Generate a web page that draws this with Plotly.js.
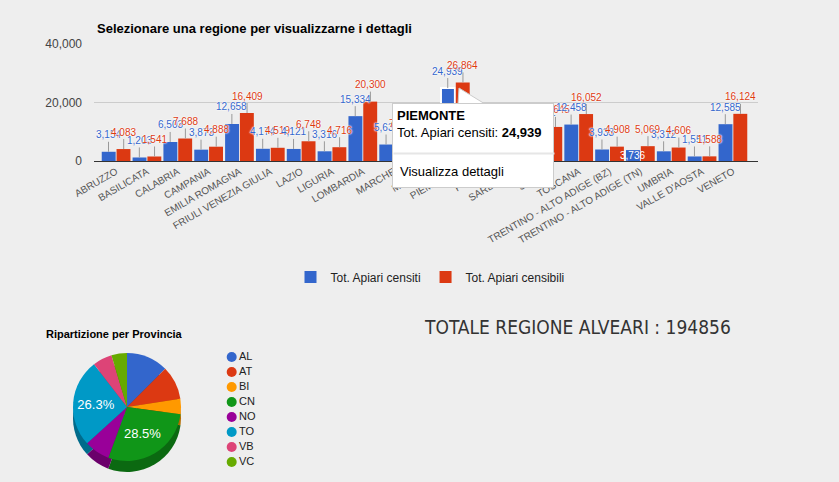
<!DOCTYPE html>
<html>
<head>
<meta charset="utf-8">
<script src="https://cdn.plot.ly/plotly-3.0.1.min.js"></script>
<style>
  body { margin: 0; background: #eeeeee; }
  #chart { width: 839px; height: 482px; }
</style>
</head>
<body>
<div id="chart"></div>
<script>
// regioni e valori
var regioni = ['ABRUZZO', 'BASILICATA', 'CALABRIA', 'CAMPANIA', 'EMILIA ROMAGNA',
  'FRIULI VENEZIA GIULIA', 'LAZIO', 'LIGURIA', 'LOMBARDIA', 'MARCHE', 'MOLISE',
  'PIEMONTE', 'PUGLIA', 'SARDEGNA', 'SICILIA', 'TOSCANA',
  'TRENTINO - ALTO ADIGE (BZ)', 'TRENTINO - ALTO ADIGE (TN)', 'UMBRIA',
  "VALLE D'AOSTA", 'VENETO'];
var censiti = [3154, 1203, 6503, 3873, 12658, 4174, 4121, 3316, 15334, 5633, 823,
  24939, 2457, 4310, 10912, 12458, 3933, 3736, 3312, 1551, 12585];
var censibili = [4083, 1541, 7688, 4888, 16409, 4519, 6748, 4716, 20300, 7020, 1072,
  26864, 3510, 5892, 11645, 16052, 4908, 5069, 4606, 1588, 16124];

// torta provincia (Piemonte)
var province = ['AL', 'AT', 'BI', 'CN', 'NO', 'TO', 'VB', 'VC'];
var alveariProv = [24400, 19500, 9000, 55530, 14800, 51250, 11300, 9076];
var totaleAlveari = 194856;

var blu = '#3366cc', rosso = '#dc3912';
var coloriTorta = ['#3366cc', '#dc3912', '#ff9900', '#109618', '#990099', '#0099c6', '#dd4477', '#66aa00'];
var coloriOmbra = ['#24478f', '#9a280d', '#b36b00', '#0b6911', '#6b006b', '#006b8b', '#9b3053', '#477700'];

var W = 839, H = 482;
function px(x) { return x / W; }
function py(y) { return 1 - y / H; }

var lineeBordo = regioni.map(function(r) { return r === 'PIEMONTE' ? 2 : 0; });

var traceCensiti = {
  type: 'bar', name: 'Tot. Apiari censiti',
  x: regioni, y: censiti,
  marker: { color: blu, line: { color: '#ffffff', width: lineeBordo } },
  hoverinfo: 'none'
};
var traceCensibili = {
  type: 'bar', name: 'Tot. Apiari censibili',
  x: regioni, y: censibili,
  marker: { color: rosso },
  hoverinfo: 'none'
};

// finta profondita' della torta
var R = 54;
var dominioX = [px(127 - R), px(127 + R)];
var tortaOmbra = {
  type: 'pie', labels: province, values: alveariProv,
  sort: false, direction: 'clockwise',
  marker: { colors: coloriOmbra, line: { width: 0 } },
  textinfo: 'none', hoverinfo: 'none', showlegend: false,
  domain: { x: dominioX, y: [py(418 + R), py(418 - R)] }
};
var testiTorta = alveariProv.map(function(v) {
  return v / totaleAlveari > 0.2 ? '%{percent:.1%}' : '';
});
var torta = {
  type: 'pie', labels: province, values: alveariProv,
  sort: false, direction: 'clockwise',
  marker: { colors: coloriTorta, line: { width: 0 } },
  texttemplate: testiTorta, textposition: 'inside',
  textfont: { color: '#ffffff', size: 13 },
  hoverinfo: 'none', showlegend: false,
  domain: { x: dominioX, y: [py(407 + R), py(407 - R)] }
};
// legenda della torta con pallini
var legendaTorta = {
  type: 'scatter', mode: 'markers+text',
  x: province.map(function() { return 0; }),
  y: province.map(function(p, i) { return i; }),
  text: province, textposition: 'middle right',
  textfont: { size: 11, color: '#222222' },
  marker: { color: coloriTorta, size: 10, symbol: 'circle' },
  xaxis: 'x2', yaxis: 'y2', showlegend: false, hoverinfo: 'none', cliponaxis: false
};

var fontEtichette = { size: 10, family: 'Arial, Liberation Sans', shadow: '0 0 2px #fff, 0 0 2px #fff, 0 0 1px #fff' };
function etichetta(reg, val, dx, colore) {
  return {
    x: reg, y: val, xshift: dx,
    text: val.toLocaleString('en-US'),
    showarrow: true, arrowhead: 0, arrowwidth: 1, arrowcolor: '#999999',
    ax: 0, ay: -17,
    font: Object.assign({ color: colore }, fontEtichette)
  };
}

var annotazioni = [];
for (var i = 0; i < regioni.length; i++) {
  if (regioni[i] === 'TRENTINO - ALTO ADIGE (TN)') {
    annotazioni.push({
      x: regioni[i], y: censiti[i], xshift: -7.6, yshift: 2,
      text: censiti[i].toLocaleString('en-US'), showarrow: false, yanchor: 'top',
      font: { size: 10, color: '#ffffff', family: 'Arial, Liberation Sans' }
    });
  } else {
    annotazioni.push(etichetta(regioni[i], censiti[i], -7.6, blu));
  }
  annotazioni.push(etichetta(regioni[i], censibili[i], 7.6, rosso));
}

// tooltip PIEMONTE
annotazioni.push({
  xref: 'paper', yref: 'paper', x: px(392), y: py(103),
  xanchor: 'left', yanchor: 'top', align: 'left', valign: 'top',
  width: 152, height: 75, borderpad: 4,
  bgcolor: '#ffffff', bordercolor: '#cccccc', borderwidth: 1,
  showarrow: false,
  text: '<b>PIEMONTE</b><br>Tot. Apiari censiti: <b>24,939</b>',
  font: { size: 13, color: '#000000', family: 'Arial, Liberation Sans' }
});
annotazioni.push({
  xref: 'paper', yref: 'paper', x: px(393), y: py(153),
  xanchor: 'left', yanchor: 'middle', width: 160, height: 1, borderpad: 0,
  bgcolor: '#e6e6e6', showarrow: false, text: ' ', font: { size: 1 }
});
annotazioni.push({
  xref: 'paper', yref: 'paper', x: px(398), y: py(171),
  xanchor: 'left', yanchor: 'middle', showarrow: false,
  text: 'Visualizza dettagli',
  font: { size: 13, color: '#000000', family: 'Arial, Liberation Sans' }
});
annotazioni.push({
  xref: 'paper', yref: 'paper', x: px(44), y: py(334),
  xanchor: 'left', yanchor: 'middle', showarrow: false,
  text: '<b>Ripartizione per Provincia</b>',
  font: { size: 11, color: '#000000', family: 'Arial, Liberation Sans' }
});
annotazioni.push({
  xref: 'paper', yref: 'paper', x: px(577), y: py(327),
  xanchor: 'center', yanchor: 'middle', showarrow: false,
  text: 'TOTALE REGIONE ALVEARI : ' + totaleAlveari,
  font: { size: 19, color: '#333333', family: 'DejaVu Sans Condensed, DejaVu Sans' }
});

var layout = {
  width: W, height: H,
  margin: { l: 0, r: 0, t: 0, b: 0, autoexpand: false },
  paper_bgcolor: '#eeeeee', plot_bgcolor: '#eeeeee',
  font: { family: 'Arial, Liberation Sans', color: '#444444' },
  title: {
    text: '<b>Selezionare una regione per visualizzarne i dettagli</b>',
    xref: 'paper', yref: 'paper', x: px(97), y: py(28),
    xanchor: 'left', yanchor: 'middle',
    font: { size: 13, color: '#000000' }
  },
  barmode: 'group', bargap: 0.04, bargroupgap: 0.06,
  xaxis: {
    domain: [px(94), px(758)], anchor: 'y',
    tickangle: -30, tickfont: { size: 10, color: '#555555' },
    showline: true, linecolor: '#333333', linewidth: 1,
    showgrid: false, ticks: '', fixedrange: true, automargin: false
  },
  yaxis: {
    domain: [py(161), py(44)], anchor: 'x',
    range: [0, 40000], tickvals: [0, 20000, 40000], tickformat: ',',
    tickfont: { size: 12, color: '#444444' },
    gridcolor: '#cccccc', zeroline: false, ticklabelstandoff: 11, fixedrange: true,
    automargin: false
  },
  xaxis2: {
    domain: [px(226), px(300)], anchor: 'y2', range: [-0.5, 6],
    visible: false, fixedrange: true
  },
  yaxis2: {
    domain: [py(469.5), py(349.5)], anchor: 'x2', range: [7.5, -0.5],
    visible: false, fixedrange: true
  },
  showlegend: true,
  legend: {
    orientation: 'h', x: px(430), xanchor: 'center', y: py(277), yanchor: 'middle',
    font: { size: 12, color: '#222222' }, bgcolor: 'rgba(0,0,0,0)'
  },
  shapes: [{
    type: 'path', xref: 'paper', yref: 'paper', layer: 'above',
    path: 'M ' + px(458) + ' ' + py(104) + ' L ' + px(459) + ' ' + py(88) +
      ' L ' + px(485) + ' ' + py(104) + ' Z',
    fillcolor: '#ffffff', line: { color: '#cccccc', width: 1 }
  }],
  annotations: annotazioni
};

Plotly.newPlot('chart', [traceCensiti, traceCensibili, tortaOmbra, torta, legendaTorta], layout,
  { displayModeBar: false });
</script>
</body>
</html>
